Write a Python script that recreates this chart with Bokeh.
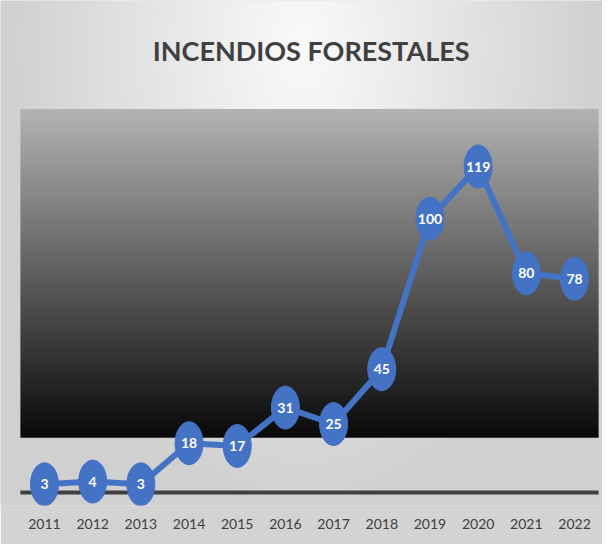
import numpy as np
from bokeh.plotting import figure
from bokeh.models import Range1d, FixedTicker, ColumnDataSource, Label
from bokeh.core.properties import value
from bokeh.embed import file_html
from bokeh.resources import INLINE

# ---- data ----
years = [2011, 2012, 2013, 2014, 2015, 2016, 2017, 2018, 2019, 2020, 2021, 2022]
incendios = [3, 4, 3, 18, 17, 31, 25, 45, 100, 119, 80, 78]
tick_labels = [str(y) for y in years]
title_text = "INCENDIOS FORESTALES"

# ---- layout constants ----
W, H = 602, 544
BOTTOM = 39
FH = H - BOTTOM
X0, X1 = 2010.087, 2022.581
Y0, Y1 = -4.74, 179.6
FONT = "Lato"

p = figure(width=W, height=H, output_backend="svg", toolbar_location=None,
           x_range=Range1d(X0, X1), y_range=Range1d(Y0, Y1),
           y_axis_location=None,
           min_border_left=0, min_border_right=0, min_border_top=0,
           min_border_bottom=BOTTOM)
p.grid.visible = False
p.outline_line_color = None
p.border_fill_color = "#d3d3d3"
p.background_fill_color = "#d8d8d8"

# background radial gradient (light at top centre, grey at edges)
cols = np.arange(W) + 0.5
rows = np.arange(FH) + 0.5
cx, cy = np.meshgrid(cols, FH - rows)  # canvas coords, row 0 = bottom
r = np.sqrt(((cx - 302) / 300.0) ** 2 + ((cy - 45) / 470.0) ** 2)
v = (250 - 42 * np.clip(r, 0, 1)).astype(np.uint8)
bg = np.zeros((FH, W), dtype=np.uint32)
bv = bg.view(dtype=np.uint8).reshape((FH, W, 4))
bv[:, :, 0] = v
bv[:, :, 1] = v
bv[:, :, 2] = v
bv[:, :, 3] = 255
p.image_rgba(image=[bg], x=X0, y=Y0, dw=X1 - X0, dh=Y1 - Y0)

# dark plot-area panel with vertical gradient
PX0, PX1, PY0, PY1 = years[0] - 0.5, years[-1] + 0.5, 20, 140
n = 240
t = np.linspace(0, 1, n)  # 0 bottom -> 1 top
g = (10 + 170 * t).astype(np.uint8)
panel = np.zeros((n, 2), dtype=np.uint32)
pv = panel.view(dtype=np.uint8).reshape((n, 2, 4))
for k in range(3):
    pv[:, :, k] = g[:, None]
pv[:, :, 3] = 255
p.image_rgba(image=[panel], x=PX0, y=PY0, dw=PX1 - PX0, dh=PY1 - PY0)

# zero axis line
p.segment(x0=[PX0], y0=[0], x1=[PX1], y1=[0], line_color="#404040", line_width=4)

src = ColumnDataSource(dict(x=years, y=incendios, lbl=[str(v_) for v_ in incendios]))
p.line("x", "y", source=src, line_color="#4472C4", line_width=6)
p.ellipse("x", "y", width=28, height=43, width_units="screen", height_units="screen",
          source=src, fill_color="#4472C4", line_color="#4472C4")
p.text("x", "y", text="lbl", source=src, text_align="center", text_baseline="middle",
       text_color="white", text_font=value(FONT), text_font_style="bold",
       text_font_size="14px")

title = Label(x=(X0 + X1) / 2 + 0.2, y=161.5, text=title_text, text_align="center",
              text_baseline="middle", text_font=FONT, text_font_style="bold",
              text_font_size="27px", text_color="#404040")
p.add_layout(title)

p.xaxis.ticker = FixedTicker(ticks=years)
p.xaxis.major_label_overrides = {y: l for y, l in zip(years, tick_labels)}
p.xaxis.axis_line_color = None
p.xaxis.major_tick_line_color = None
p.xaxis.minor_tick_line_color = None
p.xaxis.major_label_standoff = 7
p.xaxis.major_label_text_font = FONT
p.xaxis.major_label_text_font_size = "14px"
p.xaxis.major_label_text_color = "#404040"

open("out.html", "w").write(file_html(p, INLINE))
